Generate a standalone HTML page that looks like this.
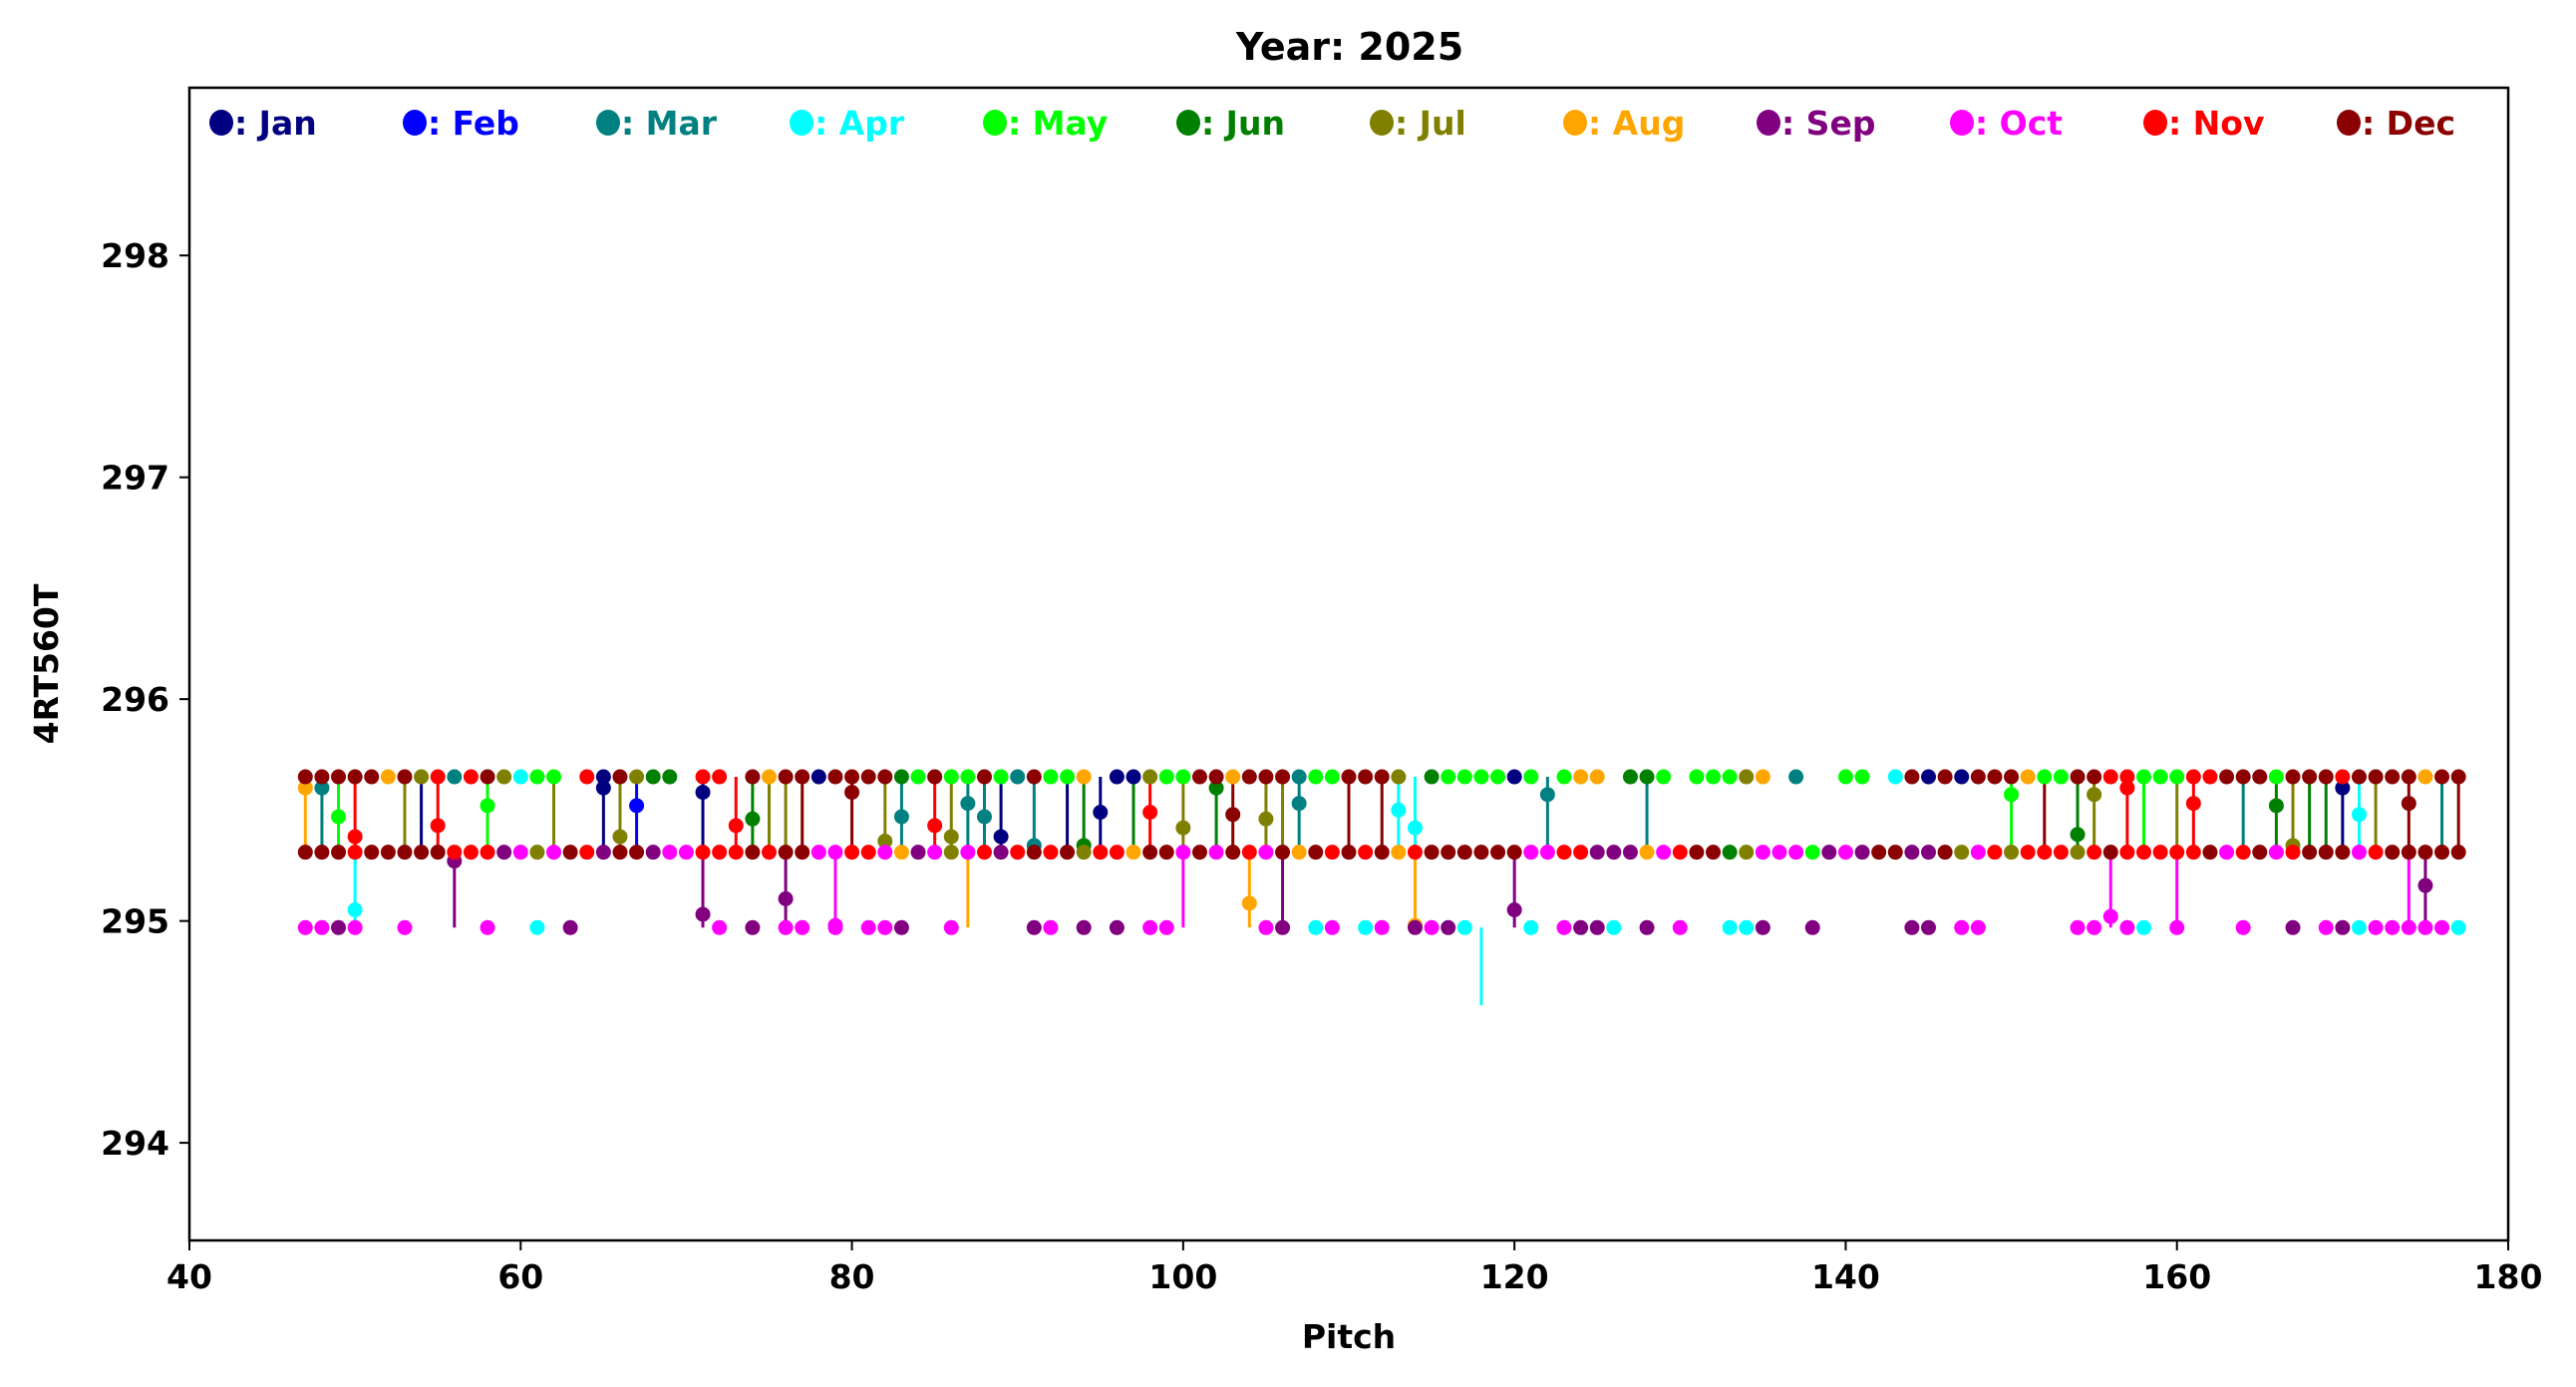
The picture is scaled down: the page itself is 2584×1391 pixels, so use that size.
<!DOCTYPE html>
<html><head><meta charset="utf-8"><style>
html,body{margin:0;padding:0;background:#fff;}
svg{display:block;font-family:"DejaVu Sans","Liberation Sans",sans-serif;font-weight:bold;}
</style></head><body>
<svg id="chart" width="2584" height="1391" viewBox="0 0 2584 1391" xmlns="http://www.w3.org/2000/svg">
<rect width="2584" height="1391" fill="#fff"/>
<text x="1354" y="60" font-size="38" text-anchor="middle" fill="#000">Year: 2025</text>
<g id="marks"></g>
<g id="axes"></g>
<g id="legend"></g>
</svg>
<script>
// ---- data ----
const monthNames = ["Jan","Feb","Mar","Apr","May","Jun","Jul","Aug","Sep","Oct","Nov","Dec"];
const monthColors = ["#000080","#0000ff","#008080","#00ffff","#00ff00","#008000","#808000","#ffa500","#800080","#ff00ff","#ff0000","#8b0000"];
const xTicks = [40,60,80,100,120,140,160,180];
const yTicks = [294,295,296,297,298];
const topValue = 295.65;
const midValue = 295.31;
const lowValue = 294.97;
// top row: [pitch, monthIndex]
const topRow = [[47,11],[48,11],[49,11],[50,11],[51,11],[52,7],[53,11],[54,6],[55,10],[56,2],[57,10],[58,11],[59,6],[60,3],[61,4],[62,4],[64,10],[65,0],[66,11],[67,6],[68,5],[69,5],[71,10],[72,10],[74,11],[75,7],[76,11],[77,11],[78,0],[79,11],[80,11],[81,11],[82,11],[83,5],[84,4],[85,11],[86,4],[87,4],[88,11],[89,4],[90,2],[91,11],[92,4],[93,4],[94,7],[96,0],[97,0],[98,6],[99,4],[100,4],[101,11],[102,11],[103,7],[104,11],[105,11],[106,11],[107,2],[108,4],[109,4],[110,11],[111,11],[112,11],[113,6],[115,5],[116,4],[117,4],[118,4],[119,4],[120,0],[121,4],[123,4],[124,7],[125,7],[127,5],[128,5],[129,4],[131,4],[132,4],[133,4],[134,6],[135,7],[137,2],[140,4],[141,4],[143,3],[144,11],[145,0],[146,11],[147,0],[148,11],[149,11],[150,11],[151,7],[152,4],[153,4],[154,11],[155,11],[156,10],[157,10],[158,4],[159,4],[160,4],[161,10],[162,10],[163,11],[164,11],[165,11],[166,4],[167,11],[168,11],[169,11],[170,10],[171,11],[172,11],[173,11],[174,11],[175,7],[176,11],[177,11]];
// middle row: [pitch, monthIndex]
const midRow = [[47,11],[48,11],[49,11],[50,10],[51,11],[52,11],[53,11],[54,11],[55,11],[56,10],[57,10],[58,10],[59,8],[60,9],[61,6],[62,9],[63,11],[64,10],[65,8],[66,11],[67,11],[68,8],[69,9],[70,9],[71,10],[72,10],[73,10],[74,11],[75,10],[76,11],[77,11],[78,9],[79,9],[80,10],[81,10],[82,9],[83,7],[84,8],[85,9],[86,6],[87,9],[88,10],[89,8],[90,10],[91,11],[92,10],[93,11],[94,6],[95,10],[96,10],[97,7],[98,11],[99,11],[100,9],[101,11],[102,9],[103,11],[104,10],[105,9],[106,11],[107,7],[108,11],[109,10],[110,11],[111,10],[112,11],[113,7],[114,10],[115,11],[116,11],[117,11],[118,11],[119,11],[120,11],[121,9],[122,9],[123,10],[124,10],[125,8],[126,8],[127,8],[128,7],[129,9],[130,10],[131,11],[132,11],[133,5],[134,6],[135,9],[136,9],[137,9],[138,4],[139,8],[140,9],[141,8],[142,11],[143,11],[144,8],[145,8],[146,11],[147,6],[148,9],[149,10],[150,6],[151,10],[152,10],[153,10],[154,6],[155,10],[156,11],[157,10],[158,10],[159,10],[160,10],[161,10],[162,11],[163,9],[164,10],[165,11],[166,9],[167,10],[168,11],[169,11],[170,11],[171,9],[172,10],[173,11],[174,11],[175,11],[176,11],[177,11]];
// low row: [pitch, monthIndex]
const lowRow = [[47,9],[48,9],[49,8],[50,9],[53,9],[58,9],[61,3],[63,8],[72,9],[74,8],[76,9],[77,9],[79,9],[81,9],[82,9],[83,8],[86,9],[91,8],[92,9],[94,8],[96,8],[98,9],[99,9],[105,9],[106,8],[108,3],[109,9],[111,3],[112,9],[114,8],[115,9],[116,8],[117,3],[121,3],[123,9],[124,8],[125,8],[126,3],[128,8],[130,9],[133,3],[134,3],[135,8],[138,8],[144,8],[145,8],[147,9],[148,9],[154,9],[155,9],[157,9],[158,3],[160,9],[164,9],[167,8],[169,9],[170,8],[171,3],[172,9],[173,9],[174,9],[175,9],[176,9],[177,3]];
// stems: [pitch, monthIndex, from, to, markerValue]
const stems = [[47,7,295.31,295.65,295.60],[48,2,295.31,295.65,295.60],[49,4,295.31,295.65,295.47],[50,10,295.31,295.65,295.38],[50,3,294.97,295.31,295.05],[53,6,295.31,295.65,null],[54,0,295.31,295.65,null],[55,10,295.31,295.65,295.43],[56,8,294.97,295.31,295.27],[58,4,295.31,295.65,295.52],[62,6,295.31,295.65,null],[65,0,295.31,295.65,295.60],[66,6,295.31,295.65,295.38],[67,1,295.31,295.65,295.52],[71,0,295.31,295.65,295.58],[71,8,294.97,295.31,295.03],[73,10,295.31,295.65,295.43],[74,5,295.31,295.65,295.46],[75,6,295.31,295.65,null],[76,6,295.31,295.65,null],[76,8,294.97,295.31,295.10],[77,11,295.31,295.65,null],[79,9,294.97,295.31,294.98],[80,11,295.31,295.65,295.58],[82,6,295.31,295.65,295.36],[83,2,295.31,295.65,295.47],[85,10,295.31,295.65,295.43],[86,6,295.31,295.65,295.38],[87,2,295.31,295.65,295.53],[87,7,294.97,295.31,null],[88,2,295.31,295.65,295.47],[89,0,295.31,295.65,295.38],[91,2,295.31,295.65,295.34],[93,0,295.31,295.65,null],[94,5,295.31,295.65,295.34],[95,0,295.31,295.65,295.49],[97,5,295.31,295.65,null],[98,10,295.31,295.65,295.49],[100,6,295.31,295.65,295.42],[100,9,294.97,295.31,null],[102,5,295.31,295.65,295.60],[103,11,295.31,295.65,295.48],[104,7,294.97,295.31,295.08],[105,6,295.31,295.65,295.46],[106,8,294.97,295.31,null],[106,6,295.31,295.65,null],[107,2,295.31,295.65,295.53],[110,11,295.31,295.65,null],[112,11,295.31,295.65,null],[113,3,295.31,295.65,295.50],[114,3,295.31,295.65,295.42],[114,7,294.97,295.31,294.98],[118,3,294.62,294.97,null],[120,8,294.97,295.31,295.05],[122,2,295.31,295.65,295.57],[128,2,295.31,295.65,null],[150,4,295.31,295.65,295.57],[152,11,295.31,295.65,null],[154,5,295.31,295.65,295.39],[155,6,295.31,295.65,295.57],[156,9,294.97,295.31,295.02],[157,10,295.31,295.65,295.60],[158,4,295.31,295.65,null],[160,6,295.31,295.65,null],[160,9,294.97,295.31,null],[161,10,295.31,295.65,295.53],[164,2,295.31,295.65,null],[166,5,295.31,295.65,295.52],[167,6,295.31,295.65,295.34],[168,5,295.31,295.65,null],[169,5,295.31,295.65,null],[170,0,295.31,295.65,295.60],[171,3,295.31,295.65,295.48],[172,6,295.31,295.65,null],[174,11,295.31,295.65,295.53],[174,9,294.97,295.31,null],[175,8,294.97,295.31,295.16],[176,2,295.31,295.65,null],[177,11,295.31,295.65,null]];

// ---- axes ----
const PL=190, PR=2516, PT=88, PB=1244;
const xMin=40, xMax=180, yMin=293.56, yMax=298.756;
function xs(v){return PL+(v-xMin)/(xMax-xMin)*(PR-PL);}
function ys(v){return PB-(v-yMin)/(yMax-yMin)*(PB-PT);}
const NS="http://www.w3.org/2000/svg";
function mk(tag,attrs,parent){const e=document.createElementNS(NS,tag);for(const k in attrs)e.setAttribute(k,attrs[k]);parent.appendChild(e);return e;}
const marks=document.getElementById('marks'), axes=document.getElementById('axes'), legend=document.getElementById('legend');
const R=7.5;

stems.forEach(s=>{
  const l=mk('line',{x1:xs(s[0]),x2:xs(s[0]),y1:ys(s[2]),y2:ys(s[3]),stroke:monthColors[s[1]],'stroke-width':3},marks);
  
  
  if(s[4]!==null){
    const c=mk('circle',{cx:xs(s[0]),cy:ys(s[4]),r:R,fill:monthColors[s[1]]},marks);
    
    
  }
});
function drawRow(row,val){
  row.forEach(p=>{
    const c=mk('circle',{cx:xs(p[0]),cy:ys(val),r:R,fill:monthColors[p[1]]},marks);
    
    
  });
}
drawRow(lowRow,lowValue);
drawRow(midRow,midValue);
drawRow(topRow,topValue);

const frame=mk('rect',{x:PL,y:PT,width:PR-PL,height:PB-PT,fill:'none',stroke:'#000','stroke-width':2.5},axes);


xTicks.forEach(t=>{
  const x=xs(t);
  mk('line',{x1:x,x2:x,y1:PB,y2:PB+10,stroke:'#000','stroke-width':2},axes);
  const tx=mk('text',{x:x,y:PB+48,'font-size':33,'text-anchor':'middle',fill:'#000'},axes);
  tx.textContent=t;
  
  
});
yTicks.forEach(t=>{
  const y=ys(t);
  mk('line',{x1:PL-10,x2:PL,y1:y,y2:y,stroke:'#000','stroke-width':2},axes);
  const tx=mk('text',{x:PL-20,y:y+12,'font-size':33,'text-anchor':'end',fill:'#000'},axes);
  tx.textContent=t;
  
  
});
const xl=mk('text',{x:(PL+PR)/2,y:1352,'font-size':33,'text-anchor':'middle',fill:'#000'},axes);
xl.textContent='Pitch';


const yl=mk('text',{x:0,y:0,'font-size':33,'text-anchor':'middle',fill:'#000',transform:'translate(58,666) rotate(-90)'},axes);
yl.textContent='4RT560T';



monthNames.forEach((m,i)=>{
  const x0=222+i*194;
  const g=mk('g',{},legend);
  
  
  mk('ellipse',{cx:x0,cy:123,rx:12,ry:13,fill:monthColors[i]},g);
  const t=mk('text',{x:x0+13,y:135,'font-size':33,fill:monthColors[i]},g);
  t.textContent=': '+m;
});
</script>
</body></html>
